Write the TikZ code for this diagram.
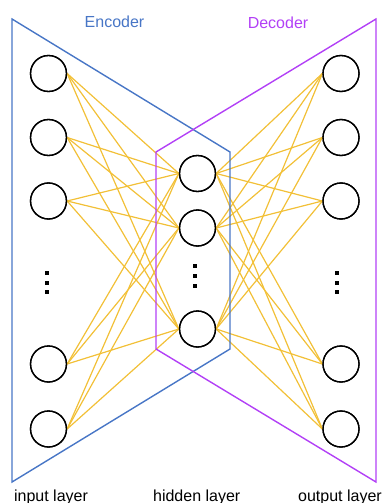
\documentclass[tikz,border=0pt]{standalone}
\usepackage{fontspec}
\setmainfont{Liberation Sans}
\definecolor{encblue}{RGB}{72,118,198}
\definecolor{decpurple}{RGB}{178,64,246}
\definecolor{wyellow}{RGB}{242,192,55}
\begin{document}
\begin{tikzpicture}[x=1pt,y=-1pt,
  neuron/.style={circle,draw=black,line width=1.3pt,minimum size=36pt,inner sep=0pt,fill=white},
  weight/.style={draw=wyellow,line width=1.2pt},
  encpoly/.style={draw=encblue,line width=1.4pt,line join=miter},
  decpoly/.style={draw=decpurple,line width=1.4pt,line join=miter},
  dotsq/.style={fill=black,minimum size=4pt,inner sep=0pt,rectangle},
  lbl/.style={font=\fontsize{16}{19}\selectfont,anchor=base,inner sep=0pt}]
\useasboundingbox (0,0) rectangle (383,503);
% input layer
\node[neuron] (i1) at (48.5,73.5) {};
\node[neuron] (i2) at (48.5,137.5) {};
\node[neuron] (i3) at (48.5,201) {};
\node[neuron] (i4) at (48.5,364) {};
\node[neuron] (i5) at (48.5,429) {};
% hidden layer
\node[neuron] (h1) at (197.5,173.5) {};
\node[neuron] (h2) at (197.5,228) {};
\node[neuron] (h3) at (197.5,329) {};
% output layer
\node[neuron] (o1) at (341,73.5) {};
\node[neuron] (o2) at (341,137.5) {};
\node[neuron] (o3) at (341,201) {};
\node[neuron] (o4) at (341,364) {};
\node[neuron] (o5) at (341,429) {};
% weights
\begin{scope}[on background layer/.style={}]
\foreach \i in {1,...,5}{
  \foreach \h in {1,2,3}{
    \draw[weight] (i\i.east) -- (h\h.west);
    \draw[weight] (h\h.east) -- (o\i.west);
  }
}
\end{scope}
% encoder / decoder outlines
\coordinate (e1) at (12,19);
\coordinate (e2) at (230,152);
\coordinate (e3) at (230,349);
\coordinate (e4) at (12,482);
\coordinate (d1) at (376,19);
\coordinate (d2) at (156,152);
\coordinate (d3) at (156,349);
\coordinate (d4) at (376,482);
\draw[encpoly] (e1) -- (e2) -- (e3) -- (e4) -- cycle;
\draw[decpoly] (d1) -- (d2) -- (d3) -- (d4) -- cycle;
% redraw neurons on top
\foreach \n in {i1,i2,i3,i4,i5,h1,h2,h3,o1,o2,o3,o4,o5}{
  \draw[black,line width=1.3pt] (\n) circle (18pt);
}
% vertical dots
\foreach \y [count=\k] in {273,283,292}{
  \node[dotsq] (di\k) at (46.5,\y) {};
  \node[dotsq] (do\k) at (336.5,\y) {};
}
\foreach \y [count=\k] in {266,276,285.5}{
  \node[dotsq] (dh\k) at (195,\y) {};
}
% labels
\node[lbl,text=encblue] (enc) at (114.5,28) {Encoder};
\node[lbl,text=decpurple] (dec) at (278,29) {Decoder};
\node[lbl] (lin) at (51,501.5) {input layer};
\node[lbl] (lhid) at (196.7,501.5) {hidden layer};
\node[lbl] (lout) at (340,501.5) {output layer};
\end{tikzpicture}
\end{document}
